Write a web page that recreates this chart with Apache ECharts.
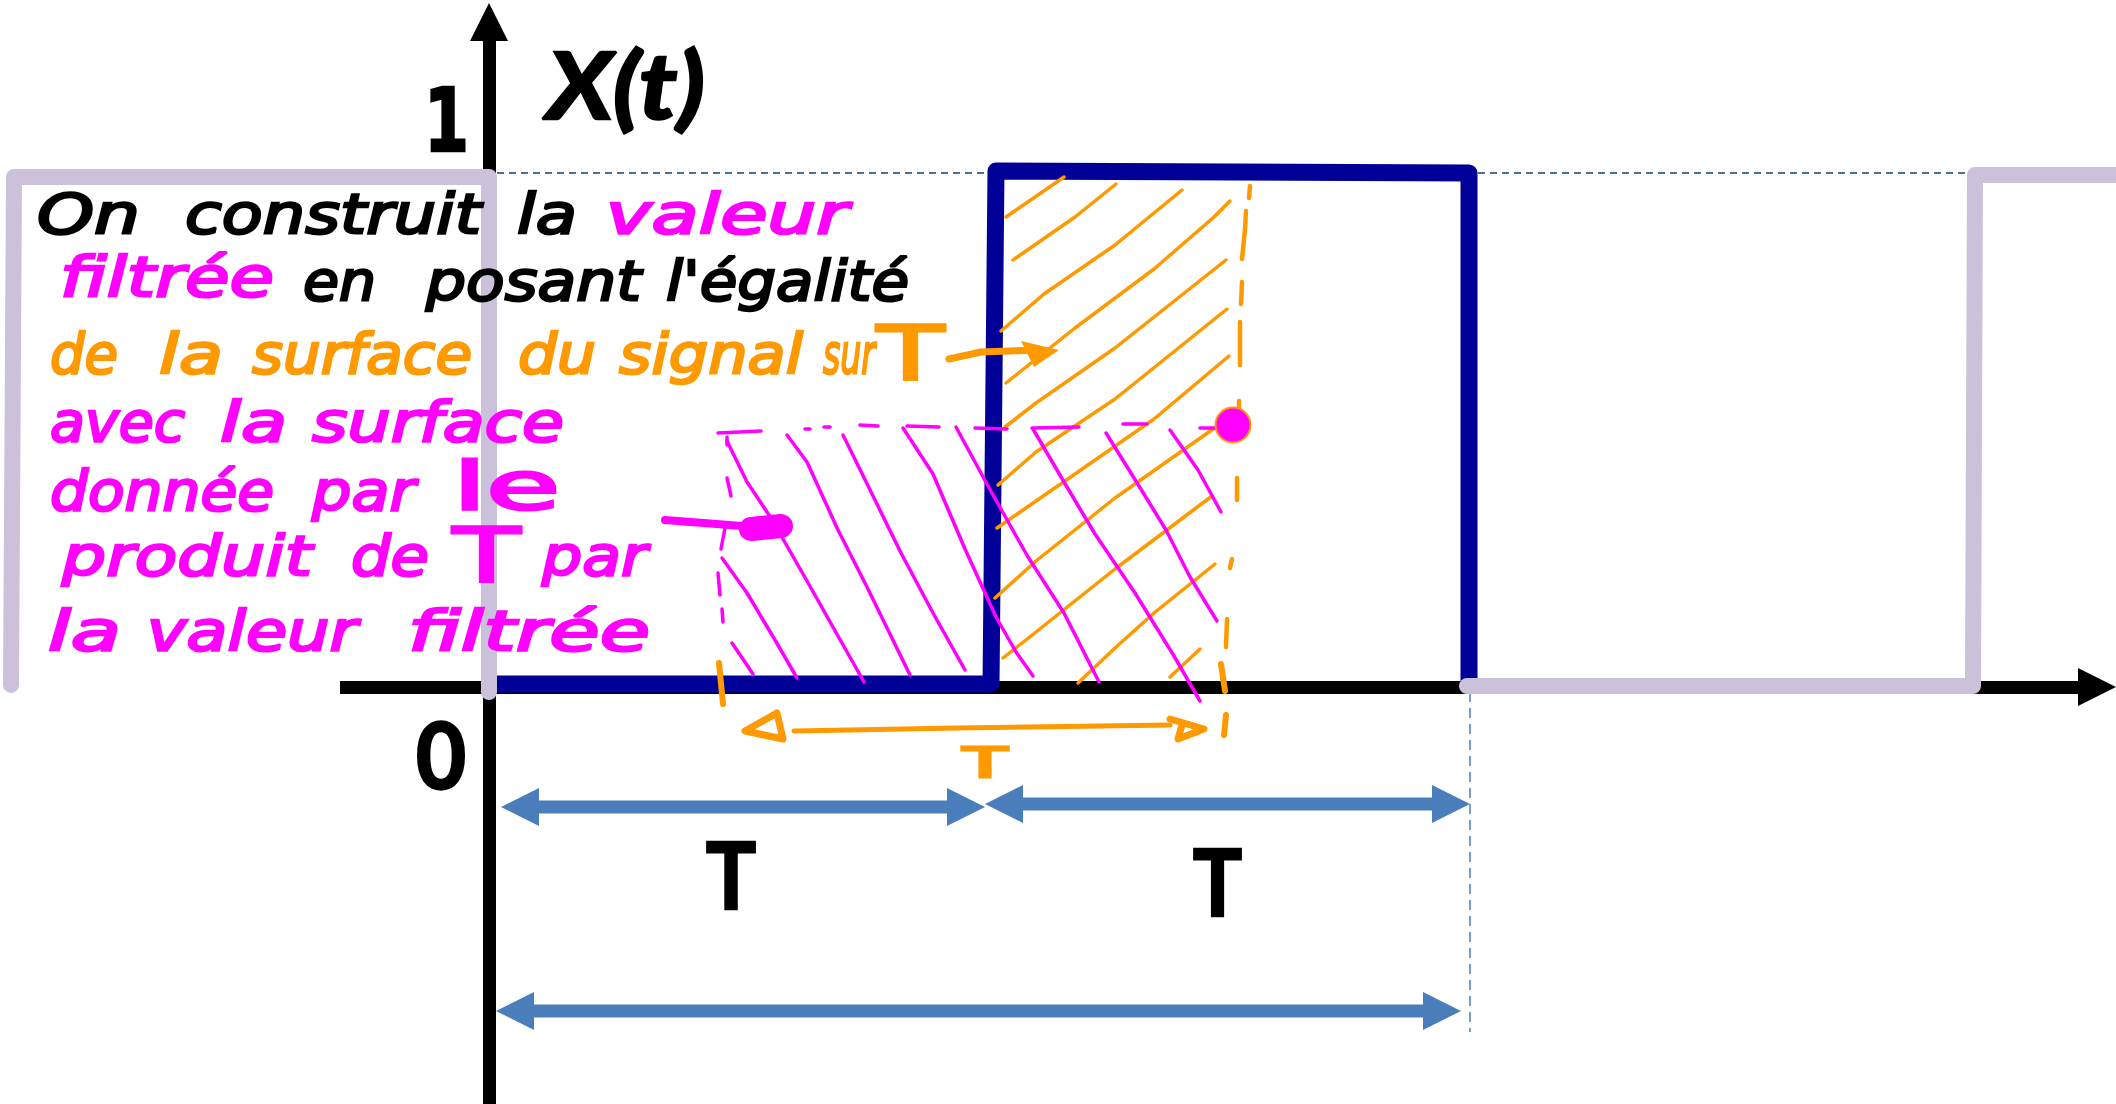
<!DOCTYPE html>
<html><head><meta charset="utf-8">
<style>html,body{margin:0;padding:0;background:#fff}#c{width:2116px;height:1104px}</style>
<script src="https://cdn.jsdelivr.net/npm/echarts@6/dist/echarts.min.js"></script>
</head><body><div id="c"></div>
<script>
// --- signal (t, X) ---
const signalGreyLeft  = [[-478,2],[-475,510],[0,510],[0,-5]];
const signalNavy      = [[8,3],[502,3],[507,516],[980,514],[980,3]];
const signalGreyRight = [[978,1],[1484,1],[1486,512],[1640,512]];
const levelOneGuideA  = [[8,514],[499,514]];
const levelOneGuideB  = [[989,514],[1476,514]];
const periodGuide     = [[981,-5],[981,-345]];
// --- blue period arrows [from, to, level] ---
const periodArrows = [[12,496,-120],[496,981,-117],[7,972,-324]];
// --- hatching ---
const orangeHatch = [
 [[517,470],[575,510]],
 [[524,427],[586,470],[627,503]],
 [[512,356],[555,393],[626,442],[693,497]],
 [[517,304],[586,359],[665,418],[725,470],[741,486]],
 [[516,260],[547,284],[626,339],[737,427]],
 [[509,202],[547,235],[626,288],[738,378]],
 [[508,159],[586,213],[665,268],[740,331]],
 [[506,89],[547,126],[626,189],[727,260]],
 [[514,29],[547,55],[626,118],[723,191]],
 [[589,4],[626,39],[665,74],[726,123]],
 [[681,10],[711,38]]
];
const magentaHatch = [
 [[238,246],[258,205],[282,169],[318,106],[349,51],[375,5]],
 [[298,252],[318,225],[349,157],[377,102],[421,12]],
 [[354,252],[385,189],[412,134],[444,74],[476,17]],
 [[414,259],[444,213],[476,138],[507,70],[527,35],[544,11]],
 [[467,260],[499,201],[539,130],[575,74],[610,5]],
 [[544,258],[575,205],[606,153],[646,94],[685,31],[711,-14]],
 [[617,254],[650,201],[677,157],[701,110],[728,66]],
 [[681,257],[709,217],[732,175]],
 [[233,129],[258,94],[286,47],[308,9]],
 [[243,44],[264,13]]
];
const magentaDashes = [
 [[229,254],[272,256]],[[316,258],[321,258]],[[335,260],[341,260]],[[371,262],[389,261]],
 [[418,261],[450,260]],[[486,259],[518,258]],[[543,259],[590,260]],[[634,263],[658,263]],
 [[711,259],[725,259]],
 [[238,250],[238,242]],[[238,209],[242,191]],[[236,159],[232,138]],[[229,114],[231,92]],[[233,78],[234,65]]
];
const orangeDashes = [
 [[761,501],[760,489]],[[757,476],[756,458],[753,428]],[[753,405],[752,383]],[[751,365],[751,322]],
 [[750,286],[750,278]],[[748,209],[748,187]],[[743,128],[741,119]],[[738,68],[737,40]]
];
const orangeTicks = [[[732,23],[736,-4]],[[737,-28],[735,-48]],[[230,24],[234,-17]]];
const orangeSpan = [[305,-44],[468,-41],[681,-38]];
const orangeSpanHeads = [[[288,-26],[256,-44],[294,-52],[288,-26]],[[681,-32],[715,-42],[689,-52],[693,-38]]];
const orangePointer = [[460,328],[492,335],[547,337]];
const orangePointerHead = [[532,346],[570,337],[545,320]];
const magentaPointer = [[176,167],[266,160]];
const magentaPointerBlob = [[262,158],[292,161]];
const filteredPoint = [[744,262]];
// --- hand-written note, one row per word: text, colour, from, to, baseline ---
const B='#000000',M='#ff00ff',O='#ff9900';
const noteWords = ['On','construit','la','valeur','filtrée','en','posant',"l'égalité",
 'de','la','surface','du','signal','sur','T','avec','la','surface','donnée','par','le',
 'produit','de','T','par','la','valeur','filtrée'];
const noteColors = [B,B,B,M,M,B,B,B,O,O,O,O,O,O,O,M,M,M,M,M,M,M,M,M,M,M,M,M];
const noteFrom = [-452,-304,28,117,-429,-186,-63,177,-439,-330,-237,29,130,334,388,-439,-269,-177,-439,-177,-36,-427,-138,-36,53,-441,-342,-81];
const noteTo   = [-349,-8,88,359,-215,-113,152,420,-371,-266,-17,107,314,386,455,-304,-202,75,-215,-74,71,-177,-60,31,158,-368,-132,161];
const noteBase = [452,452,452,452,389,385,385,385,312,312,312,312,312,312,312,244,244,244,175,175,175,110,110,110,110,35,35,35];
// --- labels ---
const labelTexts = ['1','0','T','T','X(t)','T'];
const labelFrom  = [-65,-73,217,704,58,471];
const labelTo    = [-20,-23,267,753,216,521];
const labelBase  = [532,-101,-221,-228,569,-90];

const chart = echarts.init(document.getElementById('c'), null, {renderer:'canvas'});
const mctx = document.createElement('canvas').getContext('2d');

function stroke(points,color,width,z,dash,cap){
  return {type:'custom',silent:true,z:z,clip:false,coordinateSystem:'cartesian2d',data:[[0,0]],
    renderItem:(p,api)=>({type:'polyline',shape:{points:points.map(q=>api.coord(q))},
      style:{stroke:color,lineWidth:width,fill:null,lineCap:cap||'round',lineJoin:'round',lineDash:dash||null}})};
}
function polygon(points,color,z){
  return {type:'custom',silent:true,z:z,clip:false,coordinateSystem:'cartesian2d',data:[[0,0]],
    renderItem:(p,api)=>({type:'polygon',shape:{points:points.map(q=>api.coord(q))},style:{fill:color}})};
}
function fitText(rows,fontFor,z){
  return {type:'custom',silent:true,z:z,clip:false,coordinateSystem:'cartesian2d',
    encode:{x:0,y:2},
    data:rows.map(r=>[r.from,r.to,r.base]),
    renderItem:(p,api)=>{
      const r=rows[p.dataIndex], f=fontFor(r);
      const a=api.coord([r.from,r.base]), b=api.coord([r.to,r.base]);
      mctx.font=`${f.style} ${f.weight} ${f.size}px ${f.family}`;
      const w=mctx.measureText(r.text).width;
      return {type:'text',x:a[0],y:a[1]-f.size*f.up,scaleX:(b[0]-a[0])/w,scaleY:1,
        style:{text:r.text,fontFamily:f.family,fontSize:f.size,fontWeight:f.weight,fontStyle:f.style,
          fill:r.color,stroke:f.line?r.color:null,lineWidth:f.line||0,align:'left',verticalAlign:'middle',
          textAlign:'left',textVerticalAlign:'middle'}};
    }};
}
const noteRows = noteWords.map((t,i)=>({text:t,color:noteColors[i],from:noteFrom[i],to:noteTo[i],base:noteBase[i]}));
const labelRows = labelTexts.map((t,i)=>({text:t,color:i==5?O:B,from:labelFrom[i],to:labelTo[i],base:labelBase[i]}));

const series=[
  stroke(levelOneGuideA,'#4a6f9e',2,3,[7,5],'butt'),
  stroke(levelOneGuideB,'#4a6f9e',2,3,[7,5],'butt'),
  stroke(periodGuide,'#4a7ebb',1.5,3,[10,6],'butt'),
  stroke(signalNavy,'#000099',17,4),
  stroke(signalGreyLeft,'#ccc1da',16,5),
  stroke(signalGreyRight,'#ccc1da',16,5),
  {type:'custom',silent:true,z:6,clip:false,coordinateSystem:'cartesian2d',encode:{x:[0,1],y:2},
   data:periodArrows,
   renderItem:(p,api)=>{
     const a=api.coord([api.value(0),api.value(2)]),b=api.coord([api.value(1),api.value(2)]);
     const h=38,hw=19,bw=6.5,y=a[1],l=a[0],r=b[0];
     return {type:'polygon',shape:{points:[[l,y],[l+h,y-hw],[l+h,y-bw],[r-h,y-bw],[r-h,y-hw],[r,y],[r-h,y+hw],[r-h,y+bw],[l+h,y+bw],[l+h,y+hw]]},
       style:{fill:'#4a7ebb'}};
   }},
];
orangeHatch.forEach(s=>series.push(stroke(s,O,3.5,7)));
orangeDashes.forEach(s=>series.push(stroke(s,O,4.5,7)));
orangeTicks.forEach(s=>series.push(stroke(s,O,6,9)));
magentaHatch.forEach(s=>series.push(stroke(s,M,3.5,8)));
magentaDashes.forEach(s=>series.push(stroke(s,M,3.5,8)));
series.push(stroke(orangeSpan,O,5,9));
orangeSpanHeads.forEach(s=>series.push(stroke(s,O,7,9)));
series.push(stroke(orangePointer,O,7,9));
series.push(polygon(orangePointerHead,O,9));
series.push(stroke(magentaPointer,M,8,9));
series.push(stroke(magentaPointerBlob,M,24,9));
series.push({type:'scatter',data:filteredPoint,symbolSize:35,clip:false,silent:true,z:10,
  itemStyle:{color:M,opacity:1,borderColor:O,borderWidth:2}});
series.push(fitText(noteRows,r=>r.text==='T'
   ?{family:'"DejaVu Sans"',weight:'normal',style:'normal',size:74,up:0.2,line:3}
   :r.text==='le'
   ?{family:'"DejaVu Sans"',weight:'normal',style:'normal',size:66,up:0.3,line:3}
   :{family:'"DejaVu Sans"',weight:'normal',style:'oblique',size:56,up:0.3,line:2.5},11));
series.push(fitText(labelRows,r=>({
   family:r.text==='1'?'"DejaVu Sans"':'Lato',weight:'bold',style:r.text==='X(t)'?'italic':'normal',
   size:r.color===O?44:(r.text==='1'?88:92),up:0.31,line:r.color===O?1:2.5}),11));

chart.setOption({
  animation:false,backgroundColor:'#ffffff',
  grid:{left:340,right:19,top:22,bottom:0,containLabel:false},
  xAxis:{type:'value',min:-149,max:1608,splitLine:{show:false},axisTick:{show:false},axisLabel:{show:false},
    axisLine:{show:true,onZero:true,symbol:['none','triangle'],symbolSize:[38,38],lineStyle:{color:'#000',width:13,cap:'butt'}}},
  yAxis:{type:'value',min:-417,max:665,splitLine:{show:false},axisTick:{show:false},axisLabel:{show:false},
    axisLine:{show:true,onZero:true,symbol:['none','triangle'],symbolSize:[38,38],lineStyle:{color:'#000',width:13,cap:'butt'}}},
  series:series
});
</script></body></html>
